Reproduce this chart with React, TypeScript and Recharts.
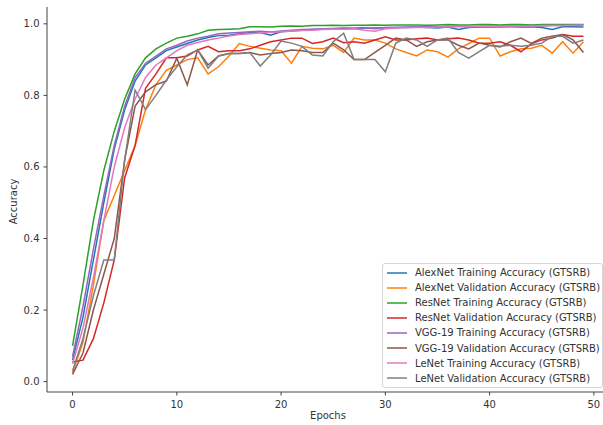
import React from "react";
import { LineChart, Line, XAxis, YAxis, Legend } from "recharts";

const EPOCHS = Array.from({ length: 50 }, (_, i) => i);

const ALEXNET_TRAIN = [
  0.06, 0.18, 0.34, 0.5, 0.65, 0.76, 0.84, 0.885, 0.905, 0.925,
  0.935, 0.945, 0.955, 0.962, 0.967, 0.968, 0.972, 0.975, 0.976, 0.968,
  0.978, 0.98, 0.982, 0.984, 0.985, 0.986, 0.987, 0.986, 0.988, 0.988,
  0.989, 0.99, 0.99, 0.991, 0.99, 0.988, 0.991, 0.984, 0.99, 0.991,
  0.992, 0.991, 0.992, 0.991, 0.992, 0.99, 0.984, 0.992, 0.992, 0.991,
];
const ALEXNET_VAL = [
  0.025, 0.11, 0.27, 0.45, 0.52, 0.59, 0.66, 0.76, 0.83, 0.87,
  0.885, 0.9, 0.905, 0.86, 0.88, 0.91, 0.945, 0.937, 0.932, 0.927,
  0.925, 0.89, 0.937, 0.932, 0.93, 0.94, 0.92, 0.96, 0.955, 0.955,
  0.946, 0.93, 0.92, 0.91, 0.927, 0.922, 0.907, 0.93, 0.945, 0.96,
  0.96, 0.91, 0.922, 0.93, 0.932, 0.94, 0.918, 0.95, 0.918, 0.95,
];
const RESNET_TRAIN = [
  0.1, 0.27, 0.45, 0.59, 0.7, 0.79, 0.86, 0.905, 0.93, 0.946,
  0.96, 0.965, 0.972, 0.982, 0.984, 0.985, 0.986, 0.992, 0.992, 0.991,
  0.993, 0.994, 0.993, 0.995, 0.995, 0.996, 0.995, 0.996, 0.996, 0.997,
  0.996, 0.997, 0.997, 0.997, 0.996, 0.997, 0.998, 0.997, 0.997, 0.998,
  0.998, 0.997, 0.998, 0.998, 0.997, 0.998, 0.998, 0.998, 0.998, 0.998,
];
const RESNET_VAL = [
  0.055, 0.06, 0.12, 0.22, 0.34, 0.57, 0.66, 0.82, 0.86, 0.905,
  0.905, 0.91, 0.927, 0.937, 0.922, 0.925, 0.925, 0.93, 0.94, 0.95,
  0.955, 0.96, 0.96, 0.945, 0.95, 0.96, 0.947, 0.95, 0.946, 0.955,
  0.964, 0.955, 0.955, 0.958, 0.96, 0.955, 0.958, 0.96, 0.955, 0.946,
  0.946, 0.95, 0.94, 0.922, 0.944, 0.955, 0.96, 0.97, 0.965, 0.965,
];
const VGG_TRAIN = [
  0.07, 0.21, 0.37, 0.52, 0.66, 0.77, 0.85, 0.89, 0.91, 0.93,
  0.94, 0.952, 0.96, 0.965, 0.972, 0.974, 0.976, 0.978, 0.979, 0.977,
  0.98, 0.982, 0.984, 0.985, 0.986, 0.987, 0.988, 0.988, 0.989, 0.986,
  0.99, 0.99, 0.991, 0.991, 0.992, 0.992, 0.993, 0.993, 0.992, 0.993,
  0.994, 0.993, 0.994, 0.994, 0.995, 0.994, 0.995, 0.995, 0.995, 0.996,
];
const VGG_VAL = [
  0.02, 0.08, 0.2, 0.3, 0.4, 0.62, 0.77, 0.81, 0.83, 0.84,
  0.904, 0.829, 0.927, 0.885, 0.91, 0.917, 0.917, 0.92, 0.913, 0.917,
  0.92, 0.927, 0.925, 0.92, 0.92, 0.946, 0.927, 0.9, 0.9, 0.92,
  0.94, 0.96, 0.955, 0.937, 0.95, 0.955, 0.955, 0.94, 0.93, 0.946,
  0.94, 0.935, 0.95, 0.96, 0.945, 0.96, 0.965, 0.97, 0.955, 0.92,
];
const LENET_TRAIN = [
  0.05, 0.15, 0.29, 0.45, 0.6, 0.71, 0.79, 0.85, 0.885, 0.905,
  0.925, 0.94, 0.948, 0.955, 0.96, 0.966, 0.97, 0.972, 0.975, 0.976,
  0.978, 0.98, 0.981, 0.982, 0.984, 0.985, 0.985, 0.986, 0.982, 0.979,
  0.986, 0.988, 0.989, 0.99, 0.99, 0.991, 0.991, 0.992, 0.992, 0.993,
  0.993, 0.992, 0.994, 0.994, 0.994, 0.995, 0.995, 0.995, 0.996, 0.996,
];
const LENET_VAL = [
  0.03, 0.12, 0.24, 0.34, 0.34, 0.62, 0.815, 0.76, 0.8, 0.843,
  0.88, 0.913, 0.927, 0.876, 0.91, 0.917, 0.917, 0.92, 0.882, 0.913,
  0.952, 0.946, 0.937, 0.913, 0.91, 0.95, 0.974, 0.9, 0.9, 0.9,
  0.866, 0.946, 0.96, 0.955, 0.937, 0.955, 0.96, 0.92, 0.904, 0.922,
  0.94, 0.937, 0.94, 0.937, 0.94, 0.946, 0.965, 0.965, 0.946, 0.955,
];

const X_TICKS = [0, 10, 20, 30, 40, 50];
const Y_TICKS = [0, 0.2, 0.4, 0.6, 0.8, 1.0];

const SERIES = [
  { key: "alexTrain", name: "AlexNet Training Accuracy (GTSRB)", color: "#1f77b4", values: ALEXNET_TRAIN },
  { key: "alexVal", name: "AlexNet Validation Accuracy (GTSRB)", color: "#ff7f0e", values: ALEXNET_VAL },
  { key: "resTrain", name: "ResNet Training Accuracy (GTSRB)", color: "#2ca02c", values: RESNET_TRAIN },
  { key: "resVal", name: "ResNet Validation Accuracy (GTSRB)", color: "#d62728", values: RESNET_VAL },
  { key: "vggTrain", name: "VGG-19 Training Accuracy (GTSRB)", color: "#9467bd", values: VGG_TRAIN },
  { key: "vggVal", name: "VGG-19 Validation Accuracy (GTSRB)", color: "#8c564b", values: VGG_VAL },
  { key: "leTrain", name: "LeNet Training Accuracy (GTSRB)", color: "#e377c2", values: LENET_TRAIN },
  { key: "leVal", name: "LeNet Validation Accuracy (GTSRB)", color: "#7f7f7f", values: LENET_VAL },
];

const data = EPOCHS.map((epoch, i) => {
  const row: Record<string, number> = { epoch };
  SERIES.forEach((s) => {
    row[s.key] = s.values[i];
  });
  return row;
});

const FONT = "'DejaVu Sans', sans-serif";
const AXIS = "#444";
const X_DOMAIN = [-2.45, 51.45];
const Y_DOMAIN = [-0.029, 1.047];

// legend keeps plotting order (recharts sorts its payload by name)
function LegendBox() {
  return (
    <div
      style={{
        border: "1px solid #d6d6d6",
        borderRadius: 3,
        background: "rgba(255,255,255,0.85)",
        padding: "1px 0",
        fontFamily: FONT,
        fontSize: 10,
        color: "#333",
      }}
    >
      {SERIES.map((s) => (
        <div key={s.key} style={{ display: "flex", alignItems: "center", height: 15.1, whiteSpace: "nowrap" }}>
          <svg width={32} height={4} style={{ flex: "none" }}>
            <line x1={4} x2={24} y1={2} y2={2} stroke={s.color} strokeWidth={1.5} />
          </svg>
          <span>{s.name}</span>
        </div>
      ))}
    </div>
  );
}

export default function App() {
  return (
    <div
      style={{
        position: "fixed",
        left: 0,
        top: 0,
        width: 603,
        height: 425,
        overflow: "hidden",
        background: "#fff",
      }}
    >
      <LineChart width={621} height={425} data={data} margin={{ top: 7, right: 12, left: 0, bottom: 0 }}>
        <XAxis
          dataKey="epoch"
          type="number"
          domain={X_DOMAIN}
          ticks={X_TICKS}
          allowDataOverflow
          height={33}
          tickSize={3.5}
          tickMargin={5}
          stroke={AXIS}
          tick={{ fontSize: 10, fill: "#333", fontFamily: FONT }}
          label={{
            // eslint-disable-next-line @typescript-eslint/no-explicit-any
            content: ({ viewBox }: any) => (
              <text
                x={viewBox.x + viewBox.width / 2}
                y={419}
                textAnchor="middle"
                fontSize={10}
                fontFamily={FONT}
                fill="#333"
              >
                Epochs
              </text>
            ),
          }}
        />
        <XAxis
          xAxisId="top"
          orientation="top"
          dataKey="epoch"
          type="number"
          domain={X_DOMAIN}
          allowDataOverflow
          height={0}
          tick={false}
          tickLine={false}
          stroke={AXIS}
        />
        <YAxis
          type="number"
          domain={Y_DOMAIN}
          ticks={Y_TICKS}
          allowDataOverflow
          width={47}
          tickSize={3.5}
          tickMargin={4}
          stroke={AXIS}
          tickFormatter={(v: number) => v.toFixed(1)}
          tick={{ fontSize: 10, fill: "#333", fontFamily: FONT }}
          label={{
            // eslint-disable-next-line @typescript-eslint/no-explicit-any
            content: ({ viewBox }: any) => {
              const cy = viewBox.y + viewBox.height / 2 + 2;
              return (
                <text
                  x={17}
                  y={cy}
                  transform={`rotate(-90 17 ${cy})`}
                  textAnchor="middle"
                  fontSize={10}
                  fontFamily={FONT}
                  fill="#333"
                >
                  Accuracy
                </text>
              );
            },
          }}
        />
        <Legend
          layout="vertical"
          align="center"
          verticalAlign="middle"
          content={<LegendBox />}
          wrapperStyle={{ left: 382, top: 263, width: 221 }}
        />
        {SERIES.map((s) => (
          <Line
            key={s.key}
            type="linear"
            dataKey={s.key}
            name={s.name}
            stroke={s.color}
            strokeWidth={1.5}
            dot={false}
            activeDot={false}
            isAnimationActive={false}
          />
        ))}
      </LineChart>
    </div>
  );
}
